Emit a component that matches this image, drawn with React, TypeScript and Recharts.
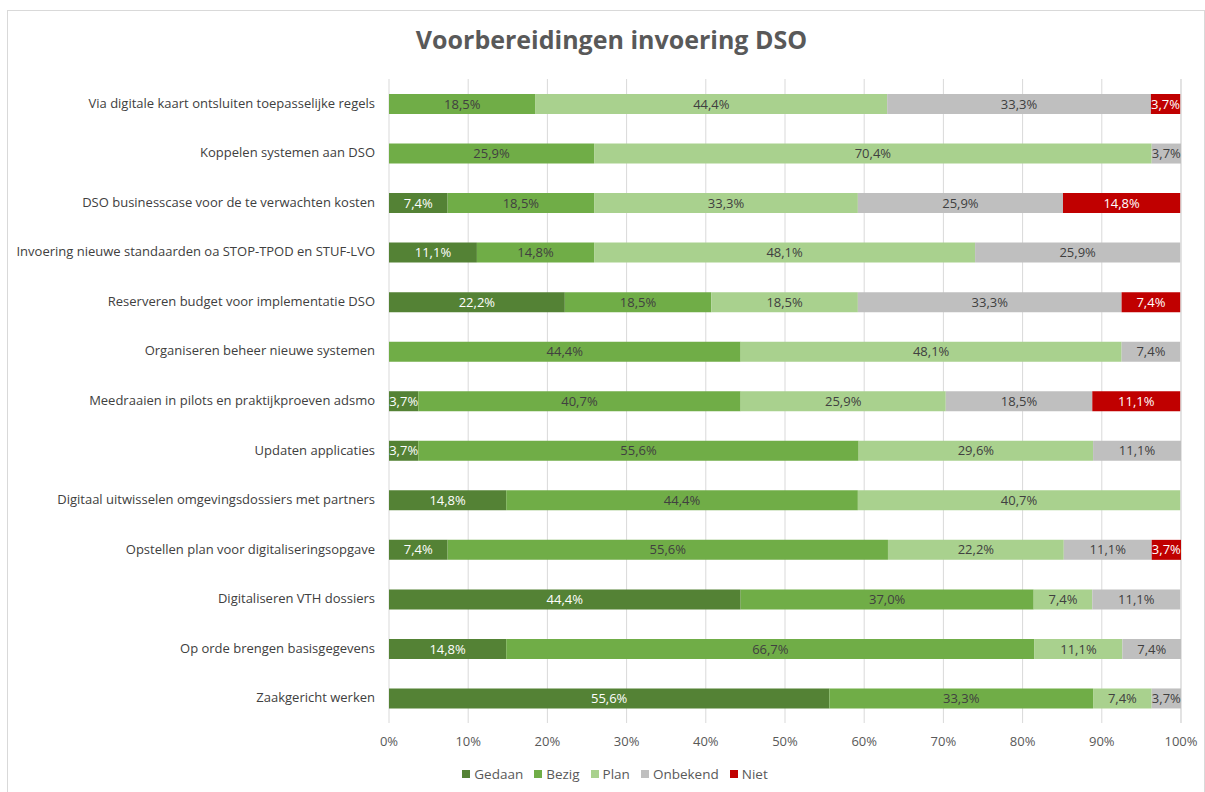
import React from "react";
import { Bar, BarChart, CartesianGrid, LabelList, XAxis, YAxis } from "recharts";

const categories = [
  "Via digitale kaart ontsluiten toepasselijke regels",
  "Koppelen systemen aan DSO",
  "DSO businesscase voor de te verwachten kosten",
  "Invoering nieuwe standaarden oa STOP-TPOD en STUF-LVO",
  "Reserveren budget voor implementatie DSO",
  "Organiseren beheer nieuwe systemen",
  "Meedraaien in pilots en praktijkproeven adsmo",
  "Updaten applicaties",
  "Digitaal uitwisselen omgevingsdossiers met partners",
  "Opstellen plan voor digitaliseringsopgave",
  "Digitaliseren VTH dossiers",
  "Op orde brengen basisgegevens",
  "Zaakgericht werken",
];

const gedaan = [0, 0, 7.4, 11.1, 22.2, 0, 3.7, 3.7, 14.8, 7.4, 44.4, 14.8, 55.6];
const bezig = [18.5, 25.9, 18.5, 14.8, 18.5, 44.4, 40.7, 55.6, 44.4, 55.6, 37.0, 66.7, 33.3];
const plan = [44.4, 70.4, 33.3, 48.1, 18.5, 48.1, 25.9, 29.6, 40.7, 22.2, 7.4, 11.1, 7.4];
const onbekend = [33.3, 3.7, 25.9, 25.9, 33.3, 7.4, 18.5, 11.1, 0, 11.1, 11.1, 7.4, 3.7];
const niet = [3.7, 0, 14.8, 0, 7.4, 0, 11.1, 0, 0, 3.7, 0, 0, 0];

const xTicks = [0, 10, 20, 30, 40, 50, 60, 70, 80, 90, 100];

const series = [
  { key: "gedaan", name: "Gedaan", color: "#548235", labelColor: "#ffffff" },
  { key: "bezig", name: "Bezig", color: "#70ad47", labelColor: "#404040" },
  { key: "plan", name: "Plan", color: "#a9d18e", labelColor: "#404040" },
  { key: "onbekend", name: "Onbekend", color: "#bfbfbf", labelColor: "#404040" },
  { key: "niet", name: "Niet", color: "#c00000", labelColor: "#ffffff" },
];

const data = categories.map((name, i) => ({
  name,
  gedaan: gedaan[i],
  bezig: bezig[i],
  plan: plan[i],
  onbekend: onbekend[i],
  niet: niet[i],
}));

const font = "'Open Sans', sans-serif";
const fmt = (v: number) => `${v.toFixed(1).replace(".", ",")}%`;

// single-line category labels, right aligned against the plot
const CategoryTick = ({ x, y, payload }: any) => (
  <text x={x} y={y} dy={4} textAnchor="end" fontSize={13} fill="#404040" fontFamily={font}>
    {payload.value}
  </text>
);

export default function App() {
  return (
    <div style={{ position: "absolute", left: 0, top: 0, width: 1205, height: 792, background: "#fff", fontFamily: font }}>
      <div
        style={{
          position: "absolute",
          left: 7,
          top: 10,
          width: 1196,
          height: 790,
          border: "1px solid #d9d9d9",
          borderBottom: "none",
        }}
      />
      <div
        style={{
          position: "absolute",
          top: 22,
          left: 0,
          width: 1223,
          textAlign: "center",
          fontSize: 25,
          fontWeight: 700,
          color: "#595959",
        }}
      >
        Voorbereidingen invoering DSO
      </div>

      <div style={{ position: "absolute", left: 0, top: 0 }}>
        <BarChart
          width={1205}
          height={792}
          data={data}
          layout="vertical"
          barSize={20}
          margin={{ top: 79, right: 24, bottom: 39, left: 9 }}
        >
          <CartesianGrid horizontal={false} stroke="#d9d9d9" />
          <XAxis
            type="number"
            domain={[0, 100]}
            ticks={xTicks}
            tickFormatter={(v: number) => `${v}%`}
            axisLine={false}
            tickLine={false}
            height={30}
            tickMargin={8}
            tick={{ fontSize: 13, fill: "#595959", fontFamily: font }}
          />
          <YAxis
            type="category"
            dataKey="name"
            width={380}
            axisLine={false}
            tickLine={false}
            tickMargin={8}
            tick={<CategoryTick />}
          />
          {series.map((s) => (
            <Bar key={s.key} dataKey={s.key} name={s.name} stackId="a" fill={s.color} isAnimationActive={false}>
              <LabelList
                dataKey={s.key}
                position="center"
                formatter={(v: any) => fmt(Number(v))}
                style={{ fill: s.labelColor, fontSize: 13, fontFamily: font }}
              />
            </Bar>
          ))}
        </BarChart>
      </div>

      <div
        style={{
          position: "absolute",
          top: 765,
          left: 0,
          width: 1230,
          display: "flex",
          justifyContent: "center",
          gap: 11,
          fontSize: 13.5,
          color: "#595959",
        }}
      >
        {series.map((s) => (
          <div key={s.key} style={{ display: "flex", alignItems: "center" }}>
            <span style={{ display: "inline-block", width: 8, height: 8, background: s.color, marginRight: 4 }} />
            {s.name}
          </div>
        ))}
      </div>
    </div>
  );
}
